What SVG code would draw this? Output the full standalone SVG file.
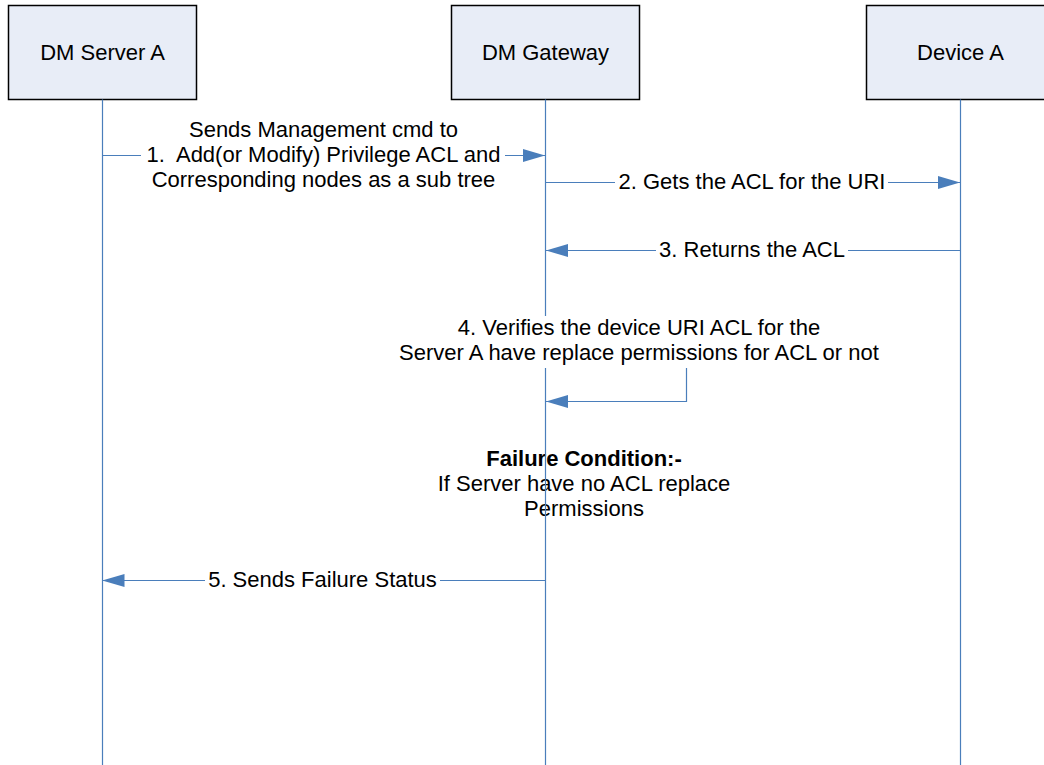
<svg xmlns="http://www.w3.org/2000/svg" width="1044" height="765" viewBox="0 0 1044 765">
  <defs>
    <style>
      .box { fill: #e8edf7; stroke: #000; stroke-width: 1.5; }
      .name { font-family: "Liberation Sans", Arial, sans-serif; font-size: 22px; fill: #000; text-anchor: middle; }
      .life { stroke: #4a7ebb; stroke-width: 1.2; fill: none; }
      .msg { stroke: #4a7ebb; stroke-width: 1.2; fill: none; marker-end: url(#head); }
      .bg { fill: #fff; }
      .lbl { font-family: "Liberation Sans", Arial, sans-serif; font-size: 22px; fill: #000; text-anchor: middle; }
      .bold { font-weight: bold; }
    </style>
    <marker id="head" viewBox="0 0 22 13" refX="22" refY="6.5" markerWidth="22" markerHeight="13" markerUnits="userSpaceOnUse" orient="auto">
      <path d="M0,0 L22,6.5 L0,13 z" fill="#4a7ebb"/>
    </marker>
  </defs>

  <rect width="1044" height="765" fill="#fff"/>

  <!-- participants -->
  <g id="dm-server-a">
    <rect class="box" x="8.5" y="5.5" width="188" height="94"/>
    <text class="name" x="102.5" y="60">DM Server A</text>
  </g>
  <g id="dm-gateway">
    <rect class="box" x="451.5" y="5.5" width="188" height="94"/>
    <text class="name" x="545.5" y="60">DM Gateway</text>
  </g>
  <g id="device-a">
    <rect class="box" x="866.5" y="5.5" width="188" height="94"/>
    <text class="name" x="960.5" y="60">Device A</text>
  </g>

  <!-- failure note (lifeline passes over it) -->
  <g id="failure-note">
    <text class="lbl bold" x="584" y="466">Failure Condition:-</text>
    <text class="lbl" x="584" y="491">If Server have no ACL replace</text>
    <text class="lbl" x="584" y="516">Permissions</text>
  </g>

  <g id="connectors">
    <!-- lifelines -->
    <line class="life" x1="102.5" y1="99.5" x2="102.5" y2="765"/>
    <line class="life" x1="545.5" y1="99.5" x2="545.5" y2="765"/>
    <line class="life" x1="960.5" y1="99.5" x2="960.5" y2="765"/>

    <!-- 1: server -> gateway -->
    <line class="msg" x1="102.5" y1="155.5" x2="545" y2="155.5"/>
    <rect class="bg" x="141" y="118" width="364" height="76"/>
    <text class="lbl" x="323.5" y="137">Sends Management cmd to</text>
    <text class="lbl" x="323.5" y="162">1.&#160; Add(or Modify) Privilege ACL and</text>
    <text class="lbl" x="323.5" y="187">Corresponding nodes as a sub tree</text>

    <!-- 2: gateway -> device -->
    <line class="msg" x1="545.5" y1="182.5" x2="960" y2="182.5"/>
    <rect class="bg" x="615" y="171" width="273" height="24"/>
    <text class="lbl" x="752" y="189">2. Gets the ACL for the URI</text>

    <!-- 3: device -> gateway -->
    <line class="msg" x1="960.5" y1="250.5" x2="546" y2="250.5"/>
    <rect class="bg" x="656" y="239" width="192" height="24"/>
    <text class="lbl" x="752" y="257">3. Returns the ACL</text>

    <!-- 4: gateway self check -->
    <path class="msg" d="M545.5,330.5 H686.5 V401.5 H546"/>
    <rect class="bg" x="386" y="316" width="506" height="52"/>
    <text class="lbl" x="639" y="335">4. Verifies the device URI ACL for the</text>
    <text class="lbl" x="639" y="360">Server A have replace permissions for ACL or not</text>

    <!-- 5: gateway -> server -->
    <line class="msg" x1="545.5" y1="580.5" x2="102.5" y2="580.5"/>
    <rect class="bg" x="205" y="569" width="235" height="24"/>
    <text class="lbl" x="322.5" y="587">5. Sends Failure Status</text>
  </g>
</svg>
